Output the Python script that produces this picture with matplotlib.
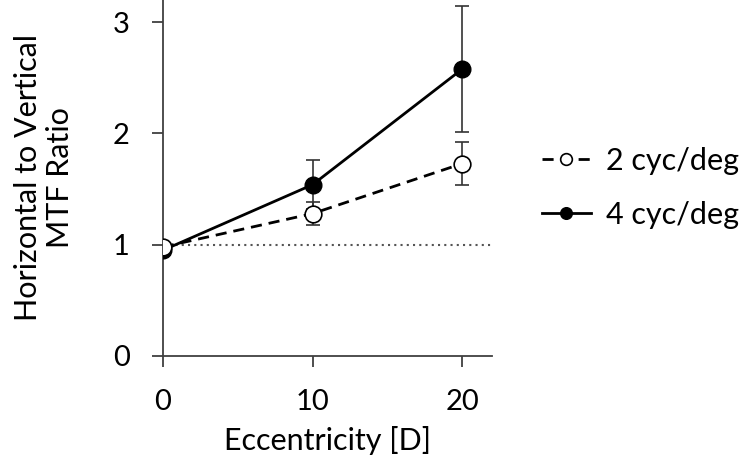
import matplotlib.pyplot as plt

plt.rcParams['font.family'] = ['Lato', 'DejaVu Sans']

ecc = [0, 10, 20]
ratio_2cyc = [0.98, 1.28, 1.73]
err_2cyc = [0.0, 0.10, 0.19]
ratio_4cyc = [0.95, 1.54, 2.58]
err_4cyc = [0.0, 0.22, 0.57]

fig = plt.figure(figsize=(7.47, 4.7), dpi=100)
ax = fig.add_axes([0.218, 0.2426, 0.441, 0.7574])

ax.plot([0, 22], [1, 1], linestyle=(0, (1, 2)), color='#555555', lw=1.5, zorder=1)

ax.errorbar(ecc, ratio_2cyc, yerr=err_2cyc, fmt='none', ecolor='#333333',
            elinewidth=1.2, capsize=5, capthick=1.2, zorder=2)
ax.errorbar(ecc, ratio_4cyc, yerr=err_4cyc, fmt='none', ecolor='#333333',
            elinewidth=1.2, capsize=5, capthick=1.2, zorder=2)

ax.plot(ecc, ratio_4cyc, '-o', color='black', lw=2, markersize=12,
        markerfacecolor='black', label='4 cyc/deg', zorder=3)
ax.plot(ecc, ratio_2cyc, '--o', color='black', lw=2, markersize=12,
        markerfacecolor='white', markeredgewidth=1.2, label='2 cyc/deg',
        dashes=(4, 2.5), zorder=4)

ax.set_xlim(0, 22)
ax.set_ylim(0, 3.2)
ax.set_xticks([0, 10, 20])
ax.set_yticks([0, 1, 2, 3])
ax.tick_params(direction='out', length=8, width=1.3, color='#404040',
               labelsize=21, pad=16)
for s in ['top', 'right']:
    ax.spines[s].set_visible(False)
for s in ['left', 'bottom']:
    ax.spines[s].set_color('#404040')
    ax.spines[s].set_linewidth(1.3)
ax.spines['left'].set_bounds(0, 3.3)

ax.set_xlabel('Eccentricity [D]', fontsize=22, labelpad=8)
ax.set_ylabel('Horizontal to Vertical\nMTF Ratio', fontsize=22, labelpad=28,
              linespacing=1.15)

h, l = ax.get_legend_handles_labels()
fig.legend(h[::-1], l[::-1], loc='center left', bbox_to_anchor=(0.705, 0.6),
           frameon=False, fontsize=22, handlelength=1.6, markerscale=0.7,
           labelspacing=0.85, handletextpad=0.5, borderpad=0)

fig.savefig('out.png', dpi=100)
